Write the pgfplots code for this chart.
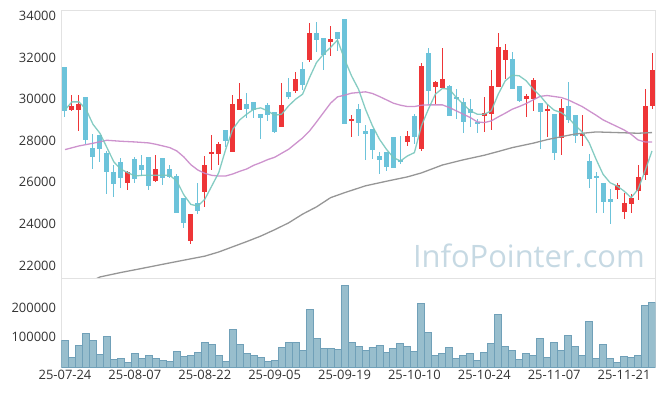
\documentclass[border=0pt]{standalone}
\usepackage{pgfplots}
\usepackage{pgfplotstable}
\usepackage{fontspec}
\setmainfont{Open Sans}
\pgfplotsset{compat=1.18}
\definecolor{upred}{RGB}{238,53,55}
\definecolor{downblue}{RGB}{108,195,218}
\definecolor{ma5}{RGB}{120,198,188}
\definecolor{ma20}{RGB}{200,135,200}
\definecolor{ma60}{RGB}{150,150,150}
\definecolor{volfill}{RGB}{152,190,205}
\definecolor{voledge}{RGB}{112,160,184}
\definecolor{framec}{RGB}{226,226,226}
\definecolor{wm}{RGB}{198,217,227}
\definecolor{ticktext}{RGB}{51,51,51}

\pgfplotstableread{
i O H L C
1 29480 30186 29432 29657
2 29480 30218 28485 29785
9 25965 26543 25644 26479
13 26061 27297 26013 26623
18 23172 24457 23044 24457
20 25532 27265 24826 26816
21 27362 28292 26607 27426
22 27362 27940 26832 27859
24 27458 30218 27458 29785
25 29480 30748 29480 30026
31 28662 30764 28662 29737
33 30395 31310 30315 30941
35 31872 33637 31759 33172
38 32754 33493 32048 32883
41 28950 29256 28196 29047
49 27939 28469 27747 28244
51 27618 31727 27506 31583
53 30588 30844 29785 30796
54 30540 32465 30540 30941
60 29191 30122 28405 29320
61 29272 31390 28501 30620
62 30588 33172 30588 32498
63 31872 32658 30957 32353
66 30010 30235 29159 30138
67 30026 31005 29432 30909
69 29464 29769 28180 29528
71 28148 30026 27297 29593
74 28228 29223 27747 28341
79 25628 25949 25179 25853
80 24569 25468 24248 24986
81 24954 25420 24521 25227
82 25580 26816 25131 26270
83 26366 30475 26110 29689
84 29673 32209 29512 31390
}\upcandles

\pgfplotstableread{
i O H L C
0 31535 31535 29159 29432
3 30090 30090 27827 28020
4 27634 28341 26623 27217
5 28260 28260 26992 27602
6 27394 27506 25452 26479
7 26479 26848 25307 25917
8 26960 27185 25740 26206
10 27105 27217 25949 26158
11 26816 27297 26302 26591
12 27201 27201 25628 25821
14 27153 27153 25853 26206
15 26623 26816 26206 26270
16 26286 26400 24521 24521
17 25227 25227 23782 24039
19 25018 25949 24489 24633
23 28501 28501 27683 27988
26 29785 30315 29095 29512
27 29881 29881 29095 29480
28 29304 29304 28084 29095
29 29737 29817 28967 29256
30 29400 29400 28389 28421
32 30331 30989 30000 30090
34 31438 31759 30427 30684
36 33172 33685 32241 32851
37 32931 32931 31406 32128
39 33220 33220 32289 32883
40 33846 33846 28790 28790
42 29512 29785 28228 28854
43 28453 28758 27089 28325
44 28549 28549 27105 27554
45 27249 27458 26415 27073
46 27474 27474 26559 26736
47 28196 28196 26688 26688
48 27073 28228 26900 26976
50 29175 29272 27827 28180
52 32209 32433 29753 30395
55 30604 30668 29175 29175
56 30122 30507 29031 29994
57 29849 30042 28389 28886
58 29512 30026 28662 29336
59 28902 29063 28389 28838
64 31920 32241 30507 30507
65 30620 30620 29866 29914
68 29801 29801 27586 29400
70 29272 29272 27057 27426
72 29689 30796 28870 28983
73 29223 29223 27907 28228
75 27008 27378 25724 26142
76 26290 26511 24505 26230
77 25949 25949 24505 25050
78 25179 25660 24007 25050
}\downcandles

\pgfplotstableread{
i V
0 90000
1 33300
2 73300
3 113300
4 90000
5 43300
6 103300
7 26700
8 30000
9 16700
10 46700
11 30000
12 40000
13 30000
14 23300
15 20000
16 53300
17 36700
18 40000
19 50000
20 83300
21 76700
22 40000
23 20000
24 126700
25 76700
26 46700
27 40000
28 33300
29 20000
30 23300
31 66700
32 83300
33 83300
34 56700
35 193300
36 96700
37 63300
38 63300
39 60000
40 273300
41 83300
42 70000
43 56700
44 66700
45 73300
46 50000
47 63300
48 80000
49 70000
50 53300
51 213300
52 116700
53 40000
54 46700
55 66700
56 30000
57 40000
58 46700
59 23300
60 50000
61 80000
62 176700
63 70000
64 56700
65 26700
66 46700
67 40000
68 96700
69 33300
70 83300
71 56700
72 106700
73 70000
74 40000
75 153300
76 30000
77 76700
78 30000
79 16700
80 36700
81 33300
82 40000
83 206700
84 216700
}\volume

\begin{document}
\begin{tikzpicture}
\useasboundingbox (-61.5bp,10bp) rectangle (603.5bp,-386bp);
\begin{axis}[
  at={(0,0)}, anchor=north west,
  scale only axis, width=594bp, height=268bp,
  xmin=-0.5, xmax=84.5, ymin=21400, ymax=34280,
  axis line style={draw=framec, line width=0.8bp},
  xtick=\empty,
  ytick={22000,24000,26000,28000,30000,32000,34000},
  major tick length=0pt,
  scaled y ticks=false,
  /pgf/number format/fixed,
  /pgf/number format/set thousands separator={},
  /pgf/number format/assume math mode=true,
  tick label style={font=\fontsize{13}{13}\selectfont, text=ticktext},
  yticklabel style={xshift=-2bp},
  clip=true,
]
\node[anchor=base east, text=wm, font=\fontsize{31}{31}\selectfont] at (rel axis cs:0.988,0.04) {InfoPointer.com};

% wicks
\addplot[draw=none, mark=none, forget plot,
  error bars/.cd, y dir=both, y explicit, error mark=none,
  error bar style={draw=upred, line width=1bp}]
  table[x=i, y expr={(\thisrow{H}+\thisrow{L})/2}, y error expr={(\thisrow{H}-\thisrow{L})/2}] {\upcandles};
\addplot[draw=none, mark=none, forget plot,
  error bars/.cd, y dir=both, y explicit, error mark=none,
  error bar style={draw=downblue, line width=1bp}]
  table[x=i, y expr={(\thisrow{H}+\thisrow{L})/2}, y error expr={(\thisrow{H}-\thisrow{L})/2}] {\downcandles};
% bodies
\addplot[draw=none, mark=none, forget plot,
  error bars/.cd, y dir=both, y explicit, error mark=none,
  error bar style={draw=upred, line width=5bp}]
  table[x=i, y expr={(\thisrow{O}+\thisrow{C})/2}, y error expr={max(abs(\thisrow{C}-\thisrow{O})/2,40)}] {\upcandles};
\addplot[draw=none, mark=none, forget plot,
  error bars/.cd, y dir=both, y explicit, error mark=none,
  error bar style={draw=downblue, line width=5bp}]
  table[x=i, y expr={(\thisrow{O}+\thisrow{C})/2}, y error expr={max(abs(\thisrow{C}-\thisrow{O})/2,40)}] {\downcandles};

% MA60
\addplot[ma60, line width=1.3bp, line join=round] coordinates {
(4,21280) (5,21450) (8,21665) (11,21860) (14,22060) (17,22257) (20,22450) (22,22650) (24,22900) (26,23150) (28,23413) (30,23720) (32,24050) (34,24470) (36,24820) (38,25260) (40,25500) (43,25830) (46,26050) (49,26260) (51,26450) (54,26830) (57,27080) (60,27300) (62,27480) (64,27666) (67,27880) (69,28050) (71,28190) (73,28320) (76,28420) (79,28389) (82,28357) (84,28389)};
% MA20
\addplot[ma20, line width=1.3bp, line join=round, opacity=0.9] coordinates {
(0,27570) (2,27747) (4,27875) (6,28020) (8,27972) (10,27939) (12,27891) (13,27827) (14,27747) (15,27666) (16,27506) (17,27220) (18,26848) (19,26591) (20,26431) (21,26334) (22,26302) (23,26302) (24,26398) (25,26527) (26,26639) (27,26816) (28,26944) (29,27089) (30,27201) (31,27394) (32,27586) (33,27859) (34,28130) (35,28469) (36,28902) (37,29352) (38,29801) (39,30106) (40,30186) (41,30283) (42,30315) (43,30347) (44,30267) (45,30122) (46,29962) (47,29801) (48,29705) (49,29641) (50,29641) (51,29705) (52,29721) (53,29721) (54,29721) (55,29593) (56,29432) (57,29272) (58,29111) (59,28902) (60,28870) (61,28950) (62,29143) (63,29320) (64,29512) (65,29641) (66,29785) (67,29962) (68,30130) (69,30170) (70,30122) (71,30074) (72,29962) (73,29801) (74,29641) (75,29432) (76,29223) (77,28999) (78,28838) (79,28678) (80,28517) (81,28308) (82,28036) (83,27939) (84,27939)};
% MA5
\addplot[ma5, line width=1.3bp, line join=round, opacity=0.9] coordinates {
(0,29480) (1,29865) (2,29865) (3,29512) (4,28790) (5,28357) (6,27667) (7,26976) (8,26623) (9,26463) (10,26302) (11,26334) (12,26334) (13,26334) (14,26334) (15,26334) (16,26061) (17,25400) (18,24938) (19,24858) (20,25179) (21,25820) (22,26463) (23,27586) (24,28549) (25,28999) (26,29272) (27,29512) (28,29576) (29,29432) (30,29223) (31,29272) (32,29673) (33,29994) (34,30234) (35,31037) (36,31759) (37,32160) (38,32482) (39,32835) (40,31920) (41,31117) (42,30475) (43,29512) (44,28710) (45,28068) (46,27586) (47,27185) (48,27024) (49,27265) (50,27426) (51,28710) (52,29512) (53,30235) (54,30507) (55,30475) (56,30074) (57,29753) (58,29432) (59,29272) (60,29272) (61,29432) (62,30235) (63,30877) (64,31149) (65,31117) (66,30877) (67,30475) (68,30154) (69,29753) (70,29464) (71,29352) (72,29111) (73,28742) (74,28421) (75,27907) (76,27105) (77,26383) (78,25981) (79,25821) (80,25580) (81,25259) (82,25660) (83,26543) (84,27506)};
\end{axis}

\begin{axis}[
  at={(0,-268bp)}, anchor=north west,
  scale only axis, width=594bp, height=89bp,
  xmin=-0.5, xmax=84.5, ymin=0, ymax=300000,
  axis line style={draw=framec, line width=0.8bp},
  xtick={0,10,20,30,40,50,60,70,80},
  xticklabels={25-07-24,25-08-07,25-08-22,25-09-05,25-09-19,25-10-10,25-10-24,25-11-07,25-11-21},
  ytick={100000,200000},
  major tick length=0pt,
  scaled y ticks=false,
  /pgf/number format/fixed,
  /pgf/number format/set thousands separator={},
  /pgf/number format/assume math mode=true,
  tick label style={font=\fontsize{13}{13}\selectfont, text=ticktext},
  yticklabel style={xshift=-2bp},
]
\addplot[ybar, bar width=1, fill=volfill, draw=voledge, line width=0.9bp] table[x=i, y=V] {\volume};
\end{axis}
\end{tikzpicture}
\end{document}
